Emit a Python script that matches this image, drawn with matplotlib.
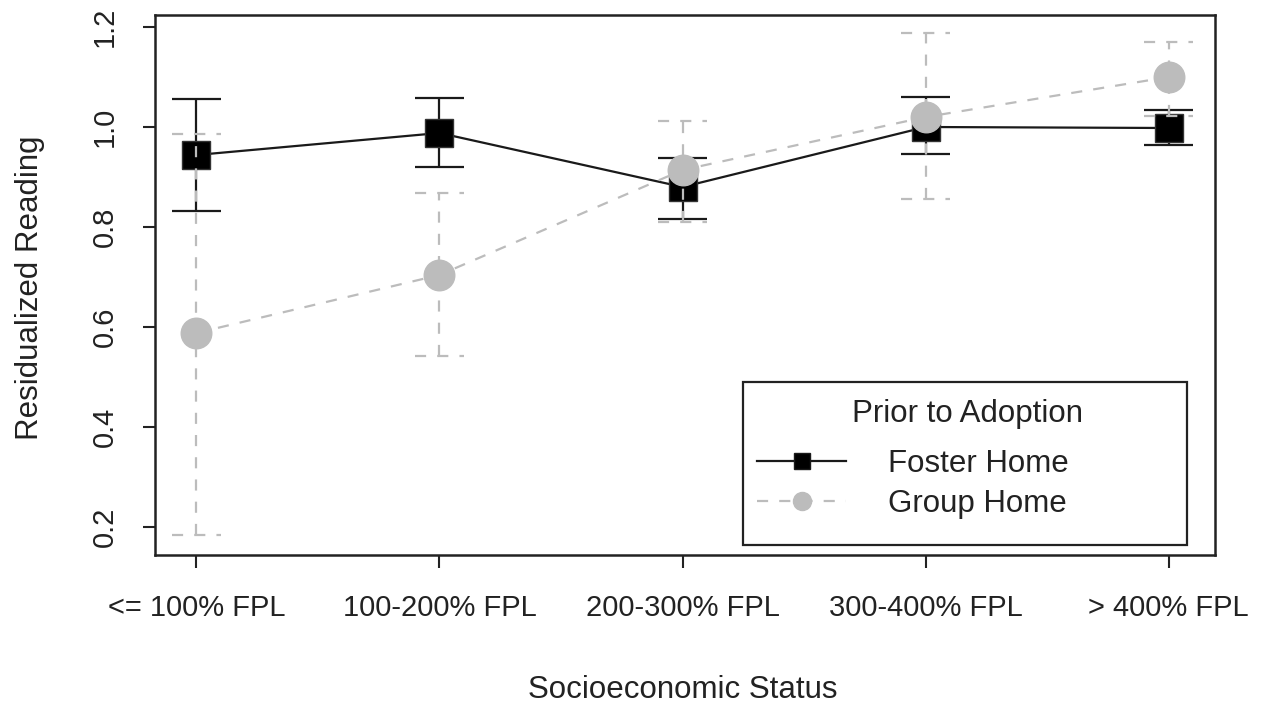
import numpy as np
import matplotlib.pyplot as plt
from matplotlib.lines import Line2D
from matplotlib.patches import Rectangle

plt.rcParams['font.family'] = ['Liberation Sans', 'DejaVu Sans']

categories = ["<= 100% FPL", "100-200% FPL", "200-300% FPL", "300-400% FPL", "> 400% FPL"]
foster_mean = [0.944, 0.988, 0.880, 1.000, 0.998]
foster_lo = [0.832, 0.920, 0.816, 0.946, 0.964]
foster_hi = [1.056, 1.058, 0.938, 1.060, 1.034]
group_mean = [0.588, 0.704, 0.914, 1.020, 1.100]
group_lo = [0.184, 0.542, 0.810, 0.856, 1.022]
group_hi = [0.986, 0.868, 1.012, 1.188, 1.170]
yticks = [0.2, 0.4, 0.6, 0.8, 1.0, 1.2]

W, H = 1274, 709
fig = plt.figure(figsize=(W / 100, H / 100), dpi=100)
ax = fig.add_axes([155 / W, (H - 555) / H, (1215 - 155) / W, (555 - 15) / H])

x = np.arange(1, len(categories) + 1)
cap = 0.1
fs = 21
fs_big = 22.5
grey = '#bcbcbc'
ink = '#222222'

# foster home: solid black
ax.vlines(x, foster_lo, foster_hi, color='#1a1a1a', lw=1.6, zorder=2)
ax.hlines(foster_lo, x - cap, x + cap, color='#1a1a1a', lw=1.6, zorder=2)
ax.hlines(foster_hi, x - cap, x + cap, color='#1a1a1a', lw=1.6, zorder=2)
ax.plot(x, foster_mean, '-', color='#1a1a1a', lw=1.6, zorder=3)
ax.plot(x, foster_mean, 's', color='black', ms=20, mec='#333333', mew=1, zorder=4)

# group home: dashed grey, drawn on top
ax.vlines(x, group_lo, group_hi, color=grey, lw=1.6, linestyles=(0, (5, 5)), zorder=5)
ax.hlines(group_lo, x - cap, x + cap, color=grey, lw=1.6, linestyles=(0, (5, 5)), zorder=5)
ax.hlines(group_hi, x - cap, x + cap, color=grey, lw=1.6, linestyles=(0, (5, 5)), zorder=5)
ax.plot(x, group_mean, '--', color=grey, lw=1.6, dashes=(5, 5), zorder=5)
ax.plot(x, group_mean, 'o', color=grey, ms=22, mec=grey, zorder=6)

ax.set_xlim(0.83, 5.19)
ax.set_ylim(0.144, 1.224)
ax.set_xticks(x)
ax.set_xticklabels(categories, fontsize=fs, color=ink)
ax.set_yticks(yticks)
ax.set_yticklabels([f"{v:.1f}" for v in yticks], fontsize=fs, rotation=90, va='center',
                   color=ink)
ax.tick_params(axis='x', length=9, width=1.5, pad=19, color=ink)
ax.tick_params(axis='y', length=9, width=1.5, pad=17, color=ink)
for s in ax.spines.values():
    s.set_linewidth(1.8)
    s.set_color(ink)

fig.text(30 / W, 1 - 288 / H, "Residualized Reading", rotation=90, fontsize=fs_big,
         ha='center', va='center', color=ink)
fig.text(683 / W, 1 - 690 / H, "Socioeconomic Status", fontsize=fs_big,
         ha='center', va='center', color=ink)

# legend box
fig.patches.append(Rectangle((743 / W, 1 - 545 / H), (1187 - 743) / W, (545 - 382) / H,
                             transform=fig.transFigure, fill=False, ec=ink, lw=1.6))
fig.text(967 / W, 1 - 414 / H, "Prior to Adoption", fontsize=fs_big, ha='center',
         va='center', color=ink)
handles = [
    Line2D([], [], color='#1a1a1a', lw=1.6, marker='s', ms=11, mfc='black'),
    Line2D([], [], color=grey, lw=1.6, dashes=(5, 5), marker='o', ms=13, mfc=grey, mec=grey),
]
fig.legend(handles, ["Foster Home", "Group Home"], loc='center left',
           bbox_to_anchor=(757 / W, 1 - 484 / H), frameon=False, fontsize=fs_big,
           handlelength=2.85, handletextpad=1.35, labelspacing=0.3, borderpad=0,
           borderaxespad=0, labelcolor=ink)

fig.savefig("out.png", dpi=100)
